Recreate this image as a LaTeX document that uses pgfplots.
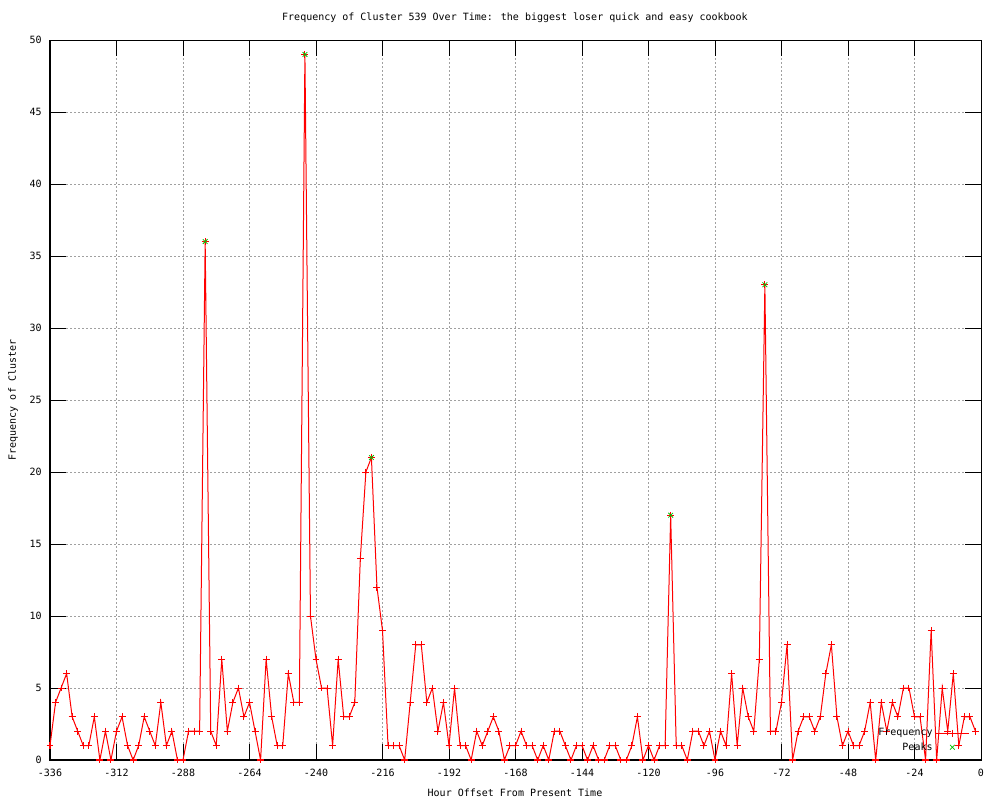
\documentclass[border=0pt]{standalone}
\usepackage{pgfplots}
\pgfplotsset{compat=1.18}
\usepackage{fontspec}
\setmainfont{DejaVu Sans Mono}
\setmonofont{DejaVu Sans Mono}
\definecolor{gpgreen}{RGB}{0,192,0}
\definecolor{gridgray}{RGB}{160,160,160}
\pgfplotstableread{
h v
-336 1
-334 4
-332 5
-330 6
-328 3
-326 2
-324 1
-322 1
-320 3
-318 0
-316 2
-314 0
-312 2
-310 3
-308 1
-306 0
-304 1
-302 3
-300 2
-298 1
-296 4
-294 1
-292 2
-290 0
-288 0
-286 2
-284 2
-282 2
-280 36
-278 2
-276 1
-274 7
-272 2
-270 4
-268 5
-266 3
-264 4
-262 2
-260 0
-258 7
-256 3
-254 1
-252 1
-250 6
-248 4
-246 4
-244 49
-242 10
-240 7
-238 5
-236 5
-234 1
-232 7
-230 3
-228 3
-226 4
-224 14
-222 20
-220 21
-218 12
-216 9
-214 1
-212 1
-210 1
-208 0
-206 4
-204 8
-202 8
-200 4
-198 5
-196 2
-194 4
-192 1
-190 5
-188 1
-186 1
-184 0
-182 2
-180 1
-178 2
-176 3
-174 2
-172 0
-170 1
-168 1
-166 2
-164 1
-162 1
-160 0
-158 1
-156 0
-154 2
-152 2
-150 1
-148 0
-146 1
-144 1
-142 0
-140 1
-138 0
-136 0
-134 1
-132 1
-130 0
-128 0
-126 1
-124 3
-122 0
-120 1
-118 0
-116 1
-114 1
-112 17
-110 1
-108 1
-106 0
-104 2
-102 2
-100 1
-98 2
-96 0
-94 2
-92 1
-90 6
-88 1
-86 5
-84 3
-82 2
-80 7
-78 33
-76 2
-74 2
-72 4
-70 8
-68 0
-66 2
-64 3
-62 3
-60 2
-58 3
-56 6
-54 8
-52 3
-50 1
-48 2
-46 1
-44 1
-42 2
-40 4
-38 0
-36 4
-34 2
-32 4
-30 3
-28 5
-26 5
-24 3
-22 3
-20 0
-18 9
-16 0
-14 5
-12 2
-10 6
-8 1
-6 3
-4 3
-2 2
}\freqdata
\pgfplotstableread{
h v
-280 36
-244 49
-220 21
-112 17
-78 33
}\peakdata
\begin{document}
\begin{tikzpicture}[x=0.75pt,y=0.75pt]
\path[use as bounding box] (0,0) rectangle (1000,800);
\begin{axis}[
  at={(37.5pt,30pt)}, anchor=south west,
  scale only axis, width=698.25pt, height=540pt,
  xmin=-336, xmax=0, ymin=0, ymax=50,
  xtick={-336,-312,...,0}, ytick={0,5,...,50},
  grid=major,
  major grid style={gridgray, line width=0.5pt, dash pattern=on 1.7pt off 1.3pt},
  tick align=inside, major tick length=12pt,
  tick style={black, line width=0.75pt},
  axis line style={black, line width=0.75pt},
  font=\fontsize{7.5}{9}\selectfont,
  /pgf/number format/assume math mode=true,
  xticklabel style={anchor=north, inner sep=0pt, yshift=-6.5pt},
  yticklabel style={anchor=east, inner sep=0pt, xshift=-6pt},
  legend plot pos=right, legend cell align=right,
  legend image code/.code={\draw[mark repeat=2,mark phase=2,#1] plot coordinates {(0pt,0pt) (12.5pt,0pt) (25pt,0pt)};},
  legend style={draw=none, fill=none, at={(0.988,0.007)}, anchor=south east,
    font=\fontsize{7.5}{9}\selectfont, row sep=-0.5pt, inner sep=0pt},
]
\addplot[red, line width=0.75pt, mark=+, mark size=2.6pt, mark options={solid}] table[x=h, y=v] {\freqdata};
\addlegendentry{Frequency}
\addplot[gpgreen, only marks, mark=x, mark size=2.5pt, line width=0.6pt] table[x=h, y=v] {\peakdata};
\addlegendentry{Peaks}
\end{axis}
\node[font=\fontsize{7.5}{9}\selectfont] at (515,782) {Frequency of Cluster 539 Over Time: the biggest loser quick and easy cookbook};
\node[font=\fontsize{7.5}{9}\selectfont] at (515,7) {Hour Offset From Present Time};
\node[font=\fontsize{7.5}{9}\selectfont, rotate=90] at (13,400) {Frequency of Cluster};
\end{tikzpicture}
\end{document}
